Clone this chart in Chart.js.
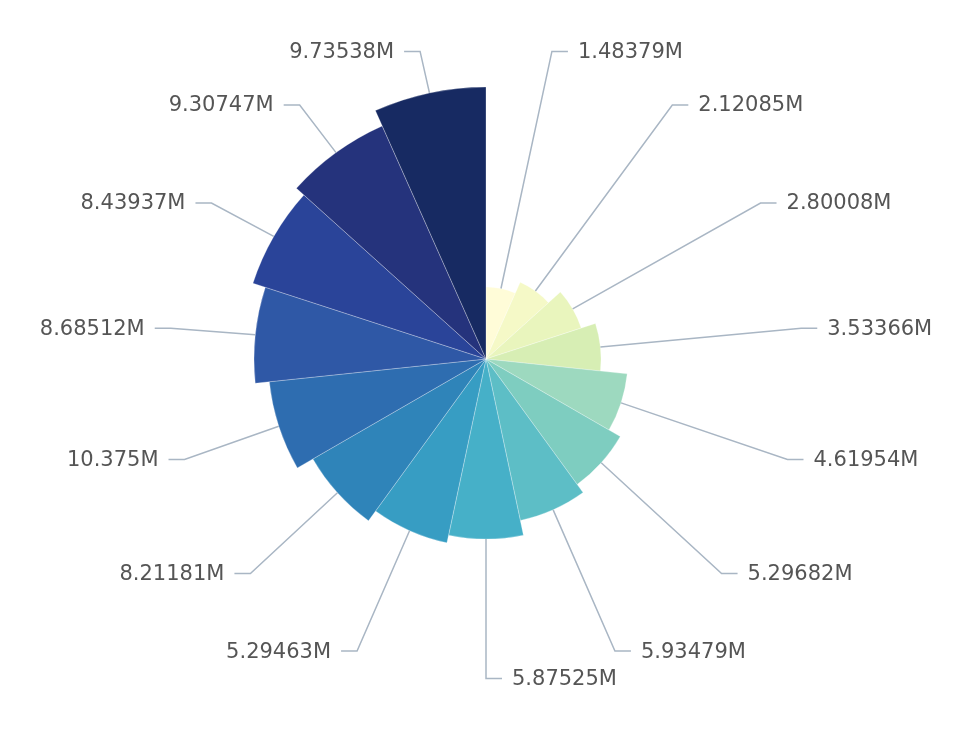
<!DOCTYPE html>
<html>
<head>
<meta charset="utf-8">
<script src="https://cdn.jsdelivr.net/npm/chart.js@4/dist/chart.umd.min.js"></script>
<style>
  html, body { margin: 0; padding: 0; background: #fff; }
  #wrap { width: 972px; height: 740px; }
</style>
</head>
<body>
<div id="wrap"><canvas id="rose"></canvas></div>
<script>
// values shown in the labels (millions)
const values = [1.48379, 2.12085, 2.80008, 3.53366, 4.61954, 5.29682, 5.93479, 5.87525,
                5.29463, 8.21181, 10.375, 8.68512, 8.43937, 9.30747, 9.73538]
const roseSizes = [26.5, 30.9, 36.8, 42.3, 52.2, 57.0, 60.7, 66.2, 69.1, 73.5, 80.1, 85.3, 90.1, 93.8, 100]
const colors = ['#fffcd8', '#f5f9c7', '#e9f5bd', '#d7eeb4', '#9dd9bf', '#7ecdc0', '#5dbec6', '#46b0c8',
                '#379dc3', '#2f84b9', '#2e6db0', '#2f58a6', '#2a4499', '#25337c', '#172a62']

const labelText = values.map(v => v + 'M')

// ECharts-like outside labels with bent leader lines
const leaderLabels = {
    id: 'leaderLabels',
    afterDatasetsDraw(chart) {
        var ctx = chart.ctx
        var labelR = chart.scales.r.drawingArea + 45
        var meta = chart.getDatasetMeta(0)
        ctx.save()
        ctx.font = '21px "DejaVu Sans"'
        ctx.textBaseline = 'middle'
        ctx.lineWidth = 1.5
        ctx.strokeStyle = '#a9b6c4'
        ctx.fillStyle = '#555'
        meta.data.forEach((arc, i) => {
            var p = arc.getProps(['x', 'y', 'startAngle', 'endAngle', 'outerRadius'], true)
            var mid = (p.startAngle + p.endAngle) / 2
            var x0 = p.x + Math.cos(mid) * p.outerRadius
            var y0 = p.y + Math.sin(mid) * p.outerRadius
            var x1 = p.x + Math.cos(mid) * labelR
            var y1 = p.y + 2.5 + Math.sin(mid) * labelR
            var right = x1 >= p.x - 0.5
            var x2 = x1 + (right ? 16 : -16)
            ctx.beginPath()
            ctx.moveTo(x0, y0)
            ctx.lineTo(x1, y1)
            ctx.lineTo(x2, y1)
            ctx.stroke()
            ctx.textAlign = right ? 'left' : 'right'
            ctx.fillText(labelText[i], x2 + (right ? 10 : -10), y1 + 1)
        })
        ctx.restore()
    }
}

var ctx = document.getElementById('rose').getContext('2d')
new Chart(ctx, {
    type: 'polarArea',
    data: {
        labels: labelText,
        datasets: [{
            data: roseSizes,
            backgroundColor: colors,
            borderColor: 'rgba(255,255,255,0.35)',
            borderWidth: 0.8
        }]
    },
    options: {
        responsive: true,
        maintainAspectRatio: false,
        animation: false,
        layout: { padding: { top: 87, bottom: 109, left: 0, right: 0 } },
        scales: {
            r: { display: false, min: 0, max: 100 }
        },
        plugins: {
            legend: { display: false },
            tooltip: { enabled: false }
        }
    },
    plugins: [leaderLabels]
})
</script>
</body>
</html>
